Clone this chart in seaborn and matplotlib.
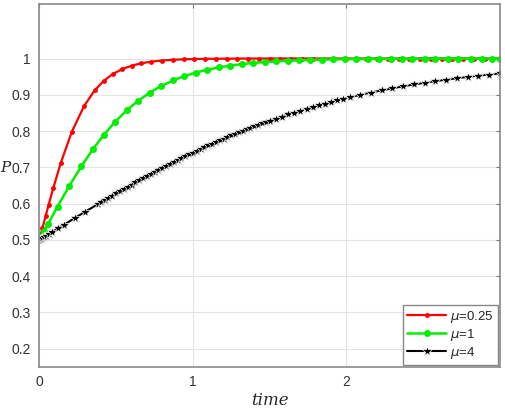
import matplotlib
matplotlib.use("Agg")
import matplotlib.pyplot as plt
import seaborn as sns

# values (ode solver output points)
red_t = [0, 0.02, 0.04, 0.06, 0.09, 0.14, 0.21, 0.29, 0.36, 0.42, 0.48, 0.54, 0.60,
         0.66, 0.73, 0.80, 0.87, 0.94, 1.01, 1.08, 1.15, 1.22, 1.29, 1.36, 1.43, 1.50,
         1.57, 1.64, 1.71, 1.78, 1.85, 1.92, 1.99, 2.06, 2.13, 2.20, 2.27, 2.34, 2.41,
         2.48, 2.55, 2.62, 2.69, 2.76, 2.83, 2.90, 2.95, 3.00]
red_p = [0.5, 0.5325, 0.5646, 0.5963, 0.6422, 0.713, 0.7966, 0.8682, 0.9122, 0.9388,
         0.9577, 0.971, 0.980, 0.9865, 0.9914, 0.9945, 0.9965, 0.9978, 0.9986, 0.9991,
         0.9994, 0.9996, 0.9998, 0.9999, 0.9999, 1.0, 1.0, 1.0, 1.0, 1.0, 1.0, 1.0, 1.0,
         1.0, 1.0, 1.0, 1.0, 1.0, 1.0, 1.0, 1.0, 1.0, 1.0, 1.0, 1.0, 1.0, 1.0, 1.0]

green_t = [0, 0.014, 0.031, 0.057, 0.118, 0.194, 0.274, 0.35, 0.42, 0.49, 0.57, 0.64,
           0.72, 0.79, 0.87, 0.94, 1.02, 1.09, 1.17, 1.24, 1.32, 1.39, 1.47, 1.54, 1.62,
           1.69, 1.76, 1.84, 1.91, 1.99, 2.06, 2.14, 2.21, 2.29, 2.36, 2.43, 2.51, 2.58,
           2.66, 2.73, 2.81, 2.88, 2.95, 3.00]
green_p = [0.5, 0.511, 0.5244, 0.5448, 0.5919, 0.6482, 0.7033, 0.7507, 0.7897, 0.824,
           0.8576, 0.8825, 0.9062, 0.9234, 0.9394, 0.9508, 0.9613, 0.9687, 0.9755, 0.9803,
           0.9846, 0.9876, 0.9903, 0.9922, 0.9940, 0.9951, 0.9961, 0.9970, 0.9976, 0.9981,
           0.9985, 0.9988, 0.9991, 0.9993, 0.9994, 0.9995, 0.9996, 0.9997, 0.9998, 0.9998,
           0.9999, 0.9999, 0.9999, 0.9999]

black_t = [0, 0.01, 0.02, 0.03, 0.045, 0.06, 0.08, 0.12, 0.16, 0.23, 0.30, 0.38,
           0.40, 0.425, 0.45, 0.475, 0.50, 0.525, 0.55, 0.575, 0.60, 0.625, 0.65, 0.675,
           0.70, 0.725, 0.75, 0.775, 0.80, 0.825, 0.85, 0.875, 0.90, 0.925, 0.95, 0.975,
           1.00, 1.025, 1.05, 1.075, 1.10, 1.125, 1.15, 1.175, 1.20, 1.225, 1.25, 1.275,
           1.30, 1.325, 1.35, 1.375, 1.40, 1.425, 1.45, 1.475, 1.50, 1.54, 1.58, 1.62,
           1.66, 1.70, 1.74, 1.78, 1.82, 1.86, 1.90, 1.94, 1.98, 2.02, 2.09, 2.16, 2.23,
           2.30, 2.37, 2.44, 2.51, 2.58, 2.65, 2.72, 2.79, 2.86, 2.93, 3.00]
black_p = [0.5, 0.5026, 0.5053, 0.5079, 0.5118, 0.5157, 0.5210, 0.5315, 0.5419, 0.5601,
           0.5781, 0.5984, 0.6035, 0.6098, 0.6160, 0.6222, 0.6283, 0.6344, 0.6405, 0.6465,
           0.6525, 0.6584, 0.6643, 0.6701, 0.6759, 0.6816, 0.6873, 0.6929, 0.6985, 0.7040,
           0.7094, 0.7148, 0.7201, 0.7254, 0.7306, 0.7357, 0.7408, 0.7458, 0.7507, 0.7556,
           0.7604, 0.7652, 0.7698, 0.7745, 0.7790, 0.7835, 0.7879, 0.7922, 0.7966, 0.8008,
           0.8050, 0.8091, 0.8131, 0.8170, 0.8209, 0.8247, 0.8285, 0.8344, 0.8401, 0.8457,
           0.8511, 0.8563, 0.8614, 0.8663, 0.8712, 0.8757, 0.8803, 0.8846, 0.8888, 0.8929,
           0.8998, 0.9062, 0.9122, 0.9179, 0.9234, 0.9284, 0.9331, 0.9376, 0.9417, 0.9456,
           0.9493, 0.9527, 0.9559, 0.9589]

labels = [r"$\mu$=0.25", r"$\mu$=1", r"$\mu$=4"]

sns.set_style("white")
plt.rcParams["font.family"] = ["Liberation Sans", "DejaVu Sans"]
plt.rcParams["mathtext.fontset"] = "dejavusans"

fig = plt.figure(figsize=(5.05, 4.09), dpi=100)
ax = fig.add_axes([0.078, 0.103, 0.912, 0.887])

sns.lineplot(x=red_t, y=red_p, color="#ff0000", marker="o", markersize=3.5,
             markeredgewidth=0, linewidth=1.6, label=labels[0], ax=ax, sort=False)
sns.lineplot(x=green_t, y=green_p, color="#00ee00", marker="o", markersize=5,
             markeredgewidth=0, linewidth=1.8, label=labels[1], ax=ax, sort=False)
sns.lineplot(x=black_t, y=black_p, color="black", marker="*", markersize=7,
             markeredgewidth=0.5, linewidth=1.5, label=labels[2], ax=ax, sort=False)

ax.set_xlim(0, 3)
ax.set_ylim(0.15, 1.15)
ax.set_xticks([0, 1, 2])
ax.set_yticks([0.2, 0.3, 0.4, 0.5, 0.6, 0.7, 0.8, 0.9, 1.0])
ax.set_yticklabels(["0.2", "0.3", "0.4", "0.5", "0.6", "0.7", "0.8", "0.9", "1"])
ax.grid(True, color="#e4e4e4", linewidth=0.8)
ax.tick_params(direction="in", length=3, color="#777777", labelcolor="#333333",
               labelsize=10, top=True, right=True, pad=6)
for s in ax.spines.values():
    s.set_color("#8a8a8a")
    s.set_linewidth(1.2)

ax.set_xlabel("time", fontsize=12, family="DejaVu Serif", style="italic", labelpad=2)
ax.set_ylabel("P", fontsize=11, family="DejaVu Serif", style="italic", rotation=0,
              labelpad=0)
ax.yaxis.set_label_coords(-0.074, 0.53)

leg = ax.legend(loc="lower right", fontsize=9.5, frameon=True, fancybox=False,
                edgecolor="#888888", framealpha=1, borderaxespad=0.15,
                handlelength=3.0, handletextpad=0.3, labelspacing=0.15, borderpad=0.3)
leg.get_frame().set_linewidth(1.0)

fig.savefig("out.png", dpi=100)
